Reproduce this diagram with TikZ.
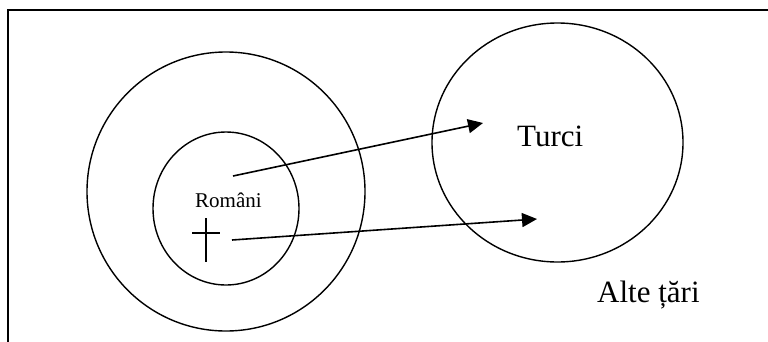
\documentclass[tikz,border=0pt]{standalone}
\usepackage{fontspec}
\setmainfont{Liberation Serif}
\usetikzlibrary{arrows.meta}
\def\labelsize#1{\fontsize{#1}{#1}\selectfont}

\begin{document}
\begin{tikzpicture}[x=1pt, y=-1pt]
		%%%%% START %%%%%
		\useasboundingbox (0, 0) rectangle (768, 341);
		
		\draw[line width=2pt] (8, 345) -- (8, 9.5) -- (772, 9.5);
		
		\draw[line width=1.4pt] (226, 191.5) ellipse (139 and 139.5);
		\draw[line width=1.4pt] (226, 208.5) ellipse (73 and 76.5);
		\draw[line width=1.4pt] (557.5, 142.5) ellipse (125.5 and 119.5);
		
		\node[anchor=base west, inner sep=0] (romani) at (195, 207) {\labelsize{21}Români};
		\node[anchor=base west, inner sep=0] (turci) at (517, 146) {\labelsize{31}Turci};
		\node[anchor=base west, inner sep=0] (alte) at (597, 302) {\labelsize{31}Alte țări};
		
		\draw[line width=1.4pt] (206, 218) -- (206, 262);
		\draw[line width=1.4pt] (192, 233) -- (220, 233);
		
		\coordinate (from1) at (233, 176);
		\coordinate (to1) at (483, 123);
		\coordinate (from2) at (232, 240);
		\coordinate (to2) at (537, 219);
		
		\draw[line width=1.6pt, -{Triangle[length=15pt, width=14pt]}] (from1) -- (to1);
		\draw[line width=1.6pt, -{Triangle[length=15pt, width=14pt]}] (from2) -- (to2);
		
		%%%%% END %%%%%
\end{tikzpicture}
\end{document}
